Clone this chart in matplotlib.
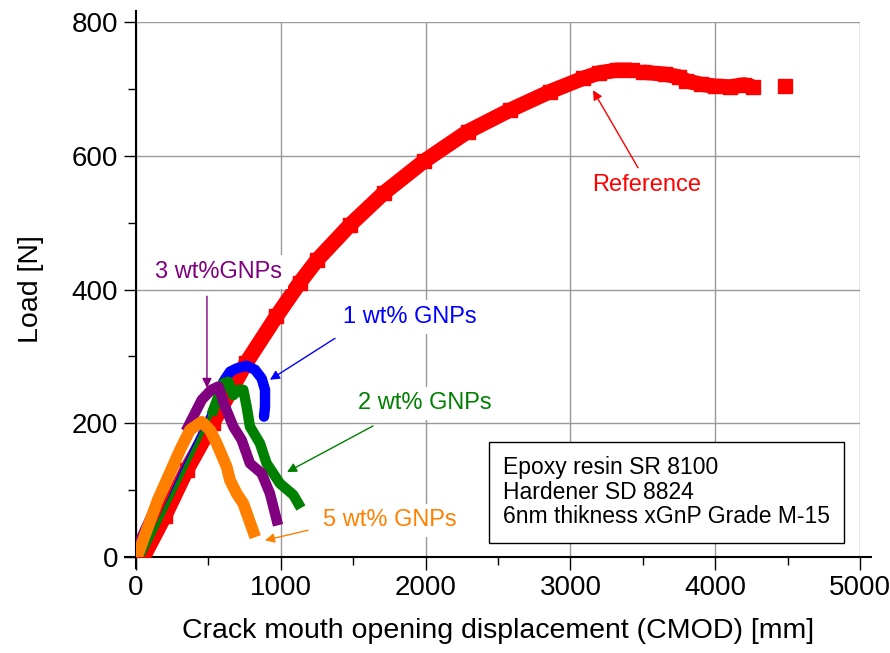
"""
Load vs CMOD curves for epoxy with different GNP contents.
Values read by eye off the original figure.
"""

import numpy as np
import matplotlib
matplotlib.use('Agg')
import matplotlib.pyplot as plt

plt.rcParams['font.family'] = ['Liberation Sans', 'DejaVu Sans']

nan = np.nan

# Reference (neat epoxy)
ref_x = [50, 200, 350, 530, 760, 970, 1130, 1250, 1480, 1710, 1990, 2290, 2580,
         2860, 3090, 3200, 3320, 3425, nan, 3500, 3650, 3750, 3800, 3900, 4000,
         4100, 4200, 4260, nan, 4480]
ref_y = [0, 62, 130, 200, 290, 360, 410, 444, 497, 544, 592, 636, 668,
         696, 716, 724, 728, 728, nan, 725, 722, 718, 712, 707, 704,
         703, 706, 703, nan, 704]

# 1 wt% GNPs
b_x = [45, 300, 603, 649, 695, 764, 822, 868, 891, 891, 884]
b_y = [0, 125, 262, 277, 282, 286, 280, 267, 250, 225, 210]

# 2 wt% GNPs
g_x = [50, 300, 534, 603, 638, 672, 707, 741, 764, 787, 856, 902, 994, 1086, 1121]
g_y = [3, 115, 220, 260, 262, 242, 250, 250, 225, 195, 170, 140, 110, 93, 80]

# 3 wt% GNPs
p_x = [0, 200, 360, 454, 520, 569, 615, 672, 730, 787, 868, 925, 972]
p_y = [25, 118, 195, 235, 250, 255, 225, 195, 175, 140, 125, 95, 55]

# 5 wt% GNPs
o_x = [15, 150, 304, 373, 454, 511, 557, 626, 649, 695, 741, 810]
o_y = [5, 85, 160, 190, 202, 190, 170, 135, 115, 95, 80, 38]

RED, BLUE, GREEN, PURPLE, ORANGE = '#ff0000', '#0000ff', '#008000', '#800080', '#ff8000'

fig = plt.figure(figsize=(8.9, 6.53), dpi=100)
ax = fig.add_axes([0.1528, 0.147, 0.8135, 0.8193])

# curves: thin ramp then thick post-peak part
ax.plot(ref_x, ref_y, color=RED, lw=11, marker='s', ms=10, solid_capstyle='butt', zorder=3)

ax.plot(b_x[:3], b_y[:3], color=BLUE, lw=1.2, zorder=4)
ax.plot(b_x[2:], b_y[2:], color=BLUE, lw=7.5, solid_capstyle='round', zorder=4)

ax.plot(g_x[:3], g_y[:3], color=GREEN, lw=3, zorder=5)
ax.plot(g_x[2:], g_y[2:], color=GREEN, lw=7.5, zorder=5)

ax.plot(p_x[:3], p_y[:3], color=PURPLE, lw=2, zorder=6)
ax.plot(p_x[2:], p_y[2:], color=PURPLE, lw=7.5, zorder=6)

ax.plot(o_x, o_y, color=ORANGE, lw=8.5, zorder=7)

# labels and arrows
lab_kw = dict(fontsize=17, ha='center', va='center', zorder=8,
              bbox=dict(facecolor='white', edgecolor='none', pad=4))
arrow = lambda c: dict(arrowstyle='-|>', color=c, lw=1, mutation_scale=14, shrinkA=0, shrinkB=0)

ax.text(3529, 556, 'Reference', color=RED, **lab_kw)
ax.annotate('', xy=(3156, 698), xytext=(3467, 582), arrowprops=arrow(RED), zorder=8)

ax.text(1892, 359, '1 wt% GNPs', color=BLUE, **lab_kw)
ax.annotate('', xy=(925, 265), xytext=(1374, 327), arrowprops=arrow(BLUE), zorder=8)

ax.text(1996, 230, '2 wt% GNPs', color=GREEN, **lab_kw)
ax.annotate('', xy=(1043, 127), xytext=(1637, 196), arrowprops=arrow(GREEN), zorder=8)

ax.text(573, 426, '3 wt%GNPs', color=PURPLE, **lab_kw)
ax.annotate('', xy=(490, 253), xytext=(490, 390), arrowprops=arrow(PURPLE), zorder=8)

ax.text(1754, 55, '5 wt% GNPs', color=ORANGE, **lab_kw)
ax.annotate('', xy=(891, 25), xytext=(1188, 40), arrowprops=arrow(ORANGE), zorder=8)

ax.text(2534, 97, 'Epoxy resin SR 8100\nHardener SD 8824\n6nm thikness xGnP Grade M-15',
        fontsize=16.5, ha='left', va='center', linespacing=1.1, zorder=9,
        bbox=dict(boxstyle='square,pad=0.62', facecolor='white', edgecolor='black', lw=1))

# axes styling
ax.set_xlim(0, 5000)
ax.set_ylim(0, 800)
ax.set_xticks(np.arange(0, 5001, 1000))
ax.set_yticks(np.arange(0, 801, 200))
ax.set_xticks(np.arange(500, 5000, 1000), minor=True)
ax.set_yticks(np.arange(100, 800, 200), minor=True)
ax.tick_params(which='major', direction='out', length=9, width=1, labelsize=20, pad=4)
ax.tick_params(which='minor', direction='out', length=6, width=1)
ax.grid(True, which='major', color='#999999', lw=1)
ax.set_axisbelow(True)

for s in ['top', 'right']:
    ax.spines[s].set_visible(False)
for s in ['left', 'bottom']:
    ax.spines[s].set_linewidth(1.5)
ax.spines['bottom'].set_bounds(-76, 5076)
ax.spines['left'].set_bounds(-16, 816)

ax.set_xlabel('Crack mouth opening displacement (CMOD) [mm]', fontsize=20.5, labelpad=12)
ax.set_ylabel('Load [N]', fontsize=20.5, labelpad=20)

plt.savefig('out.png', dpi=100)
plt.close()
